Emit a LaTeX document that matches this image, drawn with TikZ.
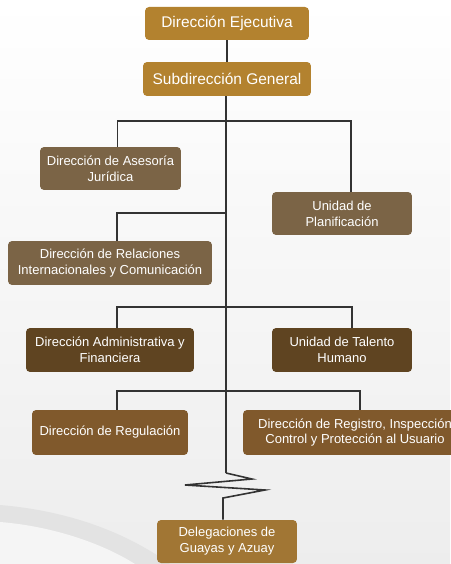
\documentclass[tikz,border=0pt]{standalone}
\usepackage{fontspec}
\setmainfont{Liberation Sans}
\usetikzlibrary{calc}

\definecolor{oro}{HTML}{B3822F}
\definecolor{olivo}{HTML}{7B6446}
\definecolor{cafe}{HTML}{5F4421}
\definecolor{canela}{HTML}{80592C}
\definecolor{deleg}{HTML}{A17634}
\definecolor{linea}{HTML}{333333}

\begin{document}
\begin{tikzpicture}[x=0.02cm, y=-0.02cm,
    caja/.style={rounded corners=2.3pt, text=white, align=center, inner sep=0pt,
                 font=\fontsize{7.4}{9}\selectfont},
    cajagrande/.style={caja, font=\fontsize{8.8}{10}\selectfont},
    link/.style={draw=linea, line width=0.9pt}]

            % fondo
            \useasboundingbox (0,0) rectangle (450,564);
            \shade[top color=white, bottom color=gray!14] (0,0) rectangle (450,564);
            \fill[gray!22] (0,505) .. controls (60,510) and (120,528) .. (170,564) -- (0,564) -- cycle;
            \fill[gray!8] (0,522) .. controls (50,526) and (100,542) .. (135,564) -- (0,564) -- cycle;

            % cajas
            \node[cajagrande, fill=oro, minimum width=3.28cm, minimum height=0.66cm] (ejec) at (227,23.5) {Dirección Ejecutiva};
            \node[cajagrande, fill=oro, minimum width=3.36cm, minimum height=0.68cm] (subdir) at (227,79) {Subdirección General};
            \node[caja, fill=olivo, minimum width=2.82cm, minimum height=0.86cm] (asesoria) at (110.5,168.5) {Dirección de Asesoría\\Jurídica};
            \node[caja, fill=olivo, minimum width=2.8cm, minimum height=0.86cm] (planif) at (342,213.5) {Unidad de\\Planificación};
            \node[caja, fill=olivo, minimum width=4.08cm, minimum height=0.88cm] (relac) at (110,263) {Dirección de Relaciones\\Internacionales y Comunicación};
            \node[caja, fill=cafe, minimum width=3.36cm, minimum height=0.88cm] (admin) at (110,350) {Dirección Administrativa y\\Financiera};
            \node[caja, fill=cafe, minimum width=2.8cm, minimum height=0.88cm] (talento) at (342,350) {Unidad de Talento\\Humano};
            \node[caja, fill=canela, minimum width=3.12cm, minimum height=0.9cm] (regul) at (110,432.5) {Dirección de Regulación};
            \node[caja, fill=canela, minimum width=4.48cm, minimum height=0.9cm] (regis) at (355,432.5) {Dirección de Registro, Inspección\\Control y Protección al Usuario};
            \node[caja, fill=deleg, minimum width=2.8cm, minimum height=0.86cm] (delega) at (227,541.5) {Delegaciones de\\Guayas y Azuay};

            % tronco
            \coordinate (r1) at (226,121);
            \coordinate (r2) at (226,213);
            \coordinate (r3) at (226,307);
            \coordinate (r4) at (226,391);
            \coordinate (corte) at (226,473);
            \draw[link] (ejec) -- (subdir);
            \draw[link] (subdir.south -| r1) -- (corte);

            % ramas
            \draw[link] (r1) -| ([xshift=0.14cm]asesoria.north);
            \draw[link] (r1) -| ([xshift=0.18cm]planif.north);
            \draw[link] (r2) -| ([xshift=0.14cm]relac.north);
            \draw[link] (r3) -| ([xshift=0.14cm]admin.north);
            \draw[link] (r3) -| ([xshift=0.2cm]talento.north);
            \draw[link] (r4) -| ([xshift=0.14cm]regul.north);
            \draw[link] (r4) -| ([xshift=0.1cm]regis.north);

            % zigzag hacia las delegaciones
            \draw[link, line join=miter] (corte) -- (252,479) -- (185,485) -- (265,490) -- (223,498) -- (delega.north -| 223,0);

        \end{tikzpicture}
\end{document}
